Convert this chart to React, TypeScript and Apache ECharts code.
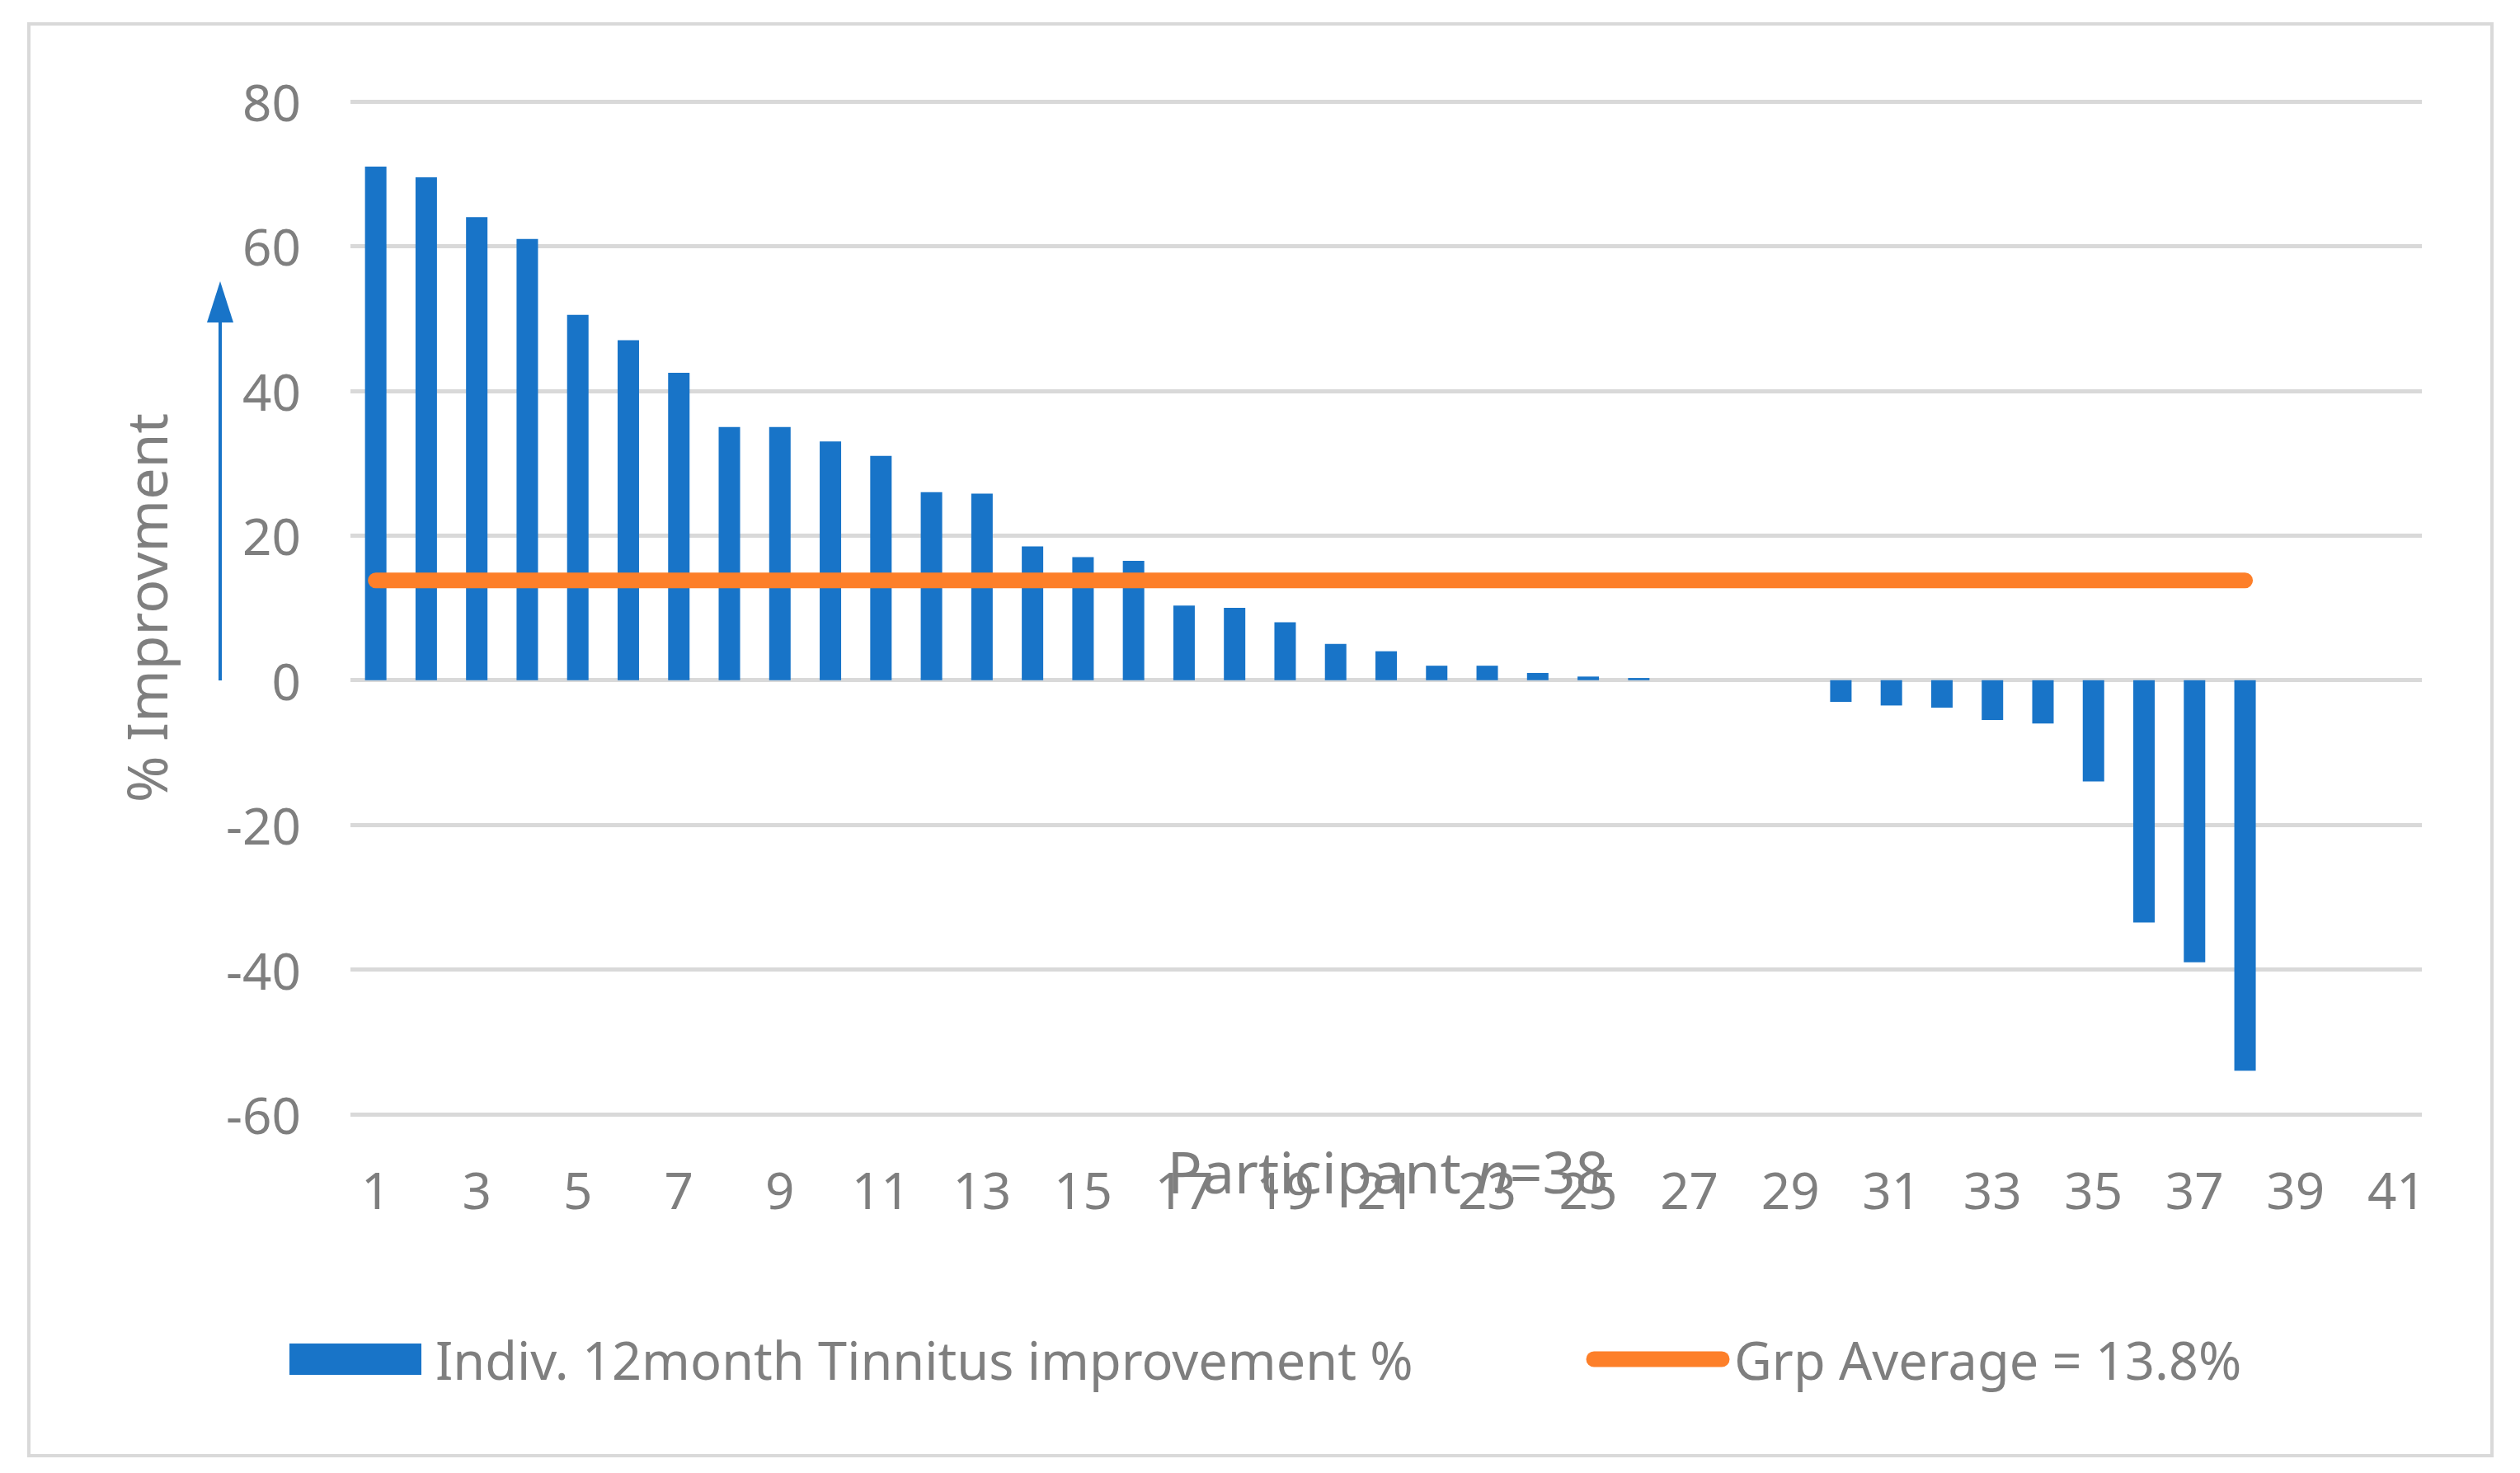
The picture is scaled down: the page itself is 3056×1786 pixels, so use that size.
import React, { useEffect, useRef } from "react";
import * as echarts from "echarts";

const categories = Array.from({ length: 41 }, (_, i) => String(i + 1));
const improvement = [71, 69.5, 64, 61, 50.5, 47, 42.5, 35, 35, 33, 31, 26, 25.8, 18.5, 17, 16.5, 10.3, 10, 8, 5, 4, 2, 2, 1, 0.5, 0.3, 0, 0, 0, -3, -3.5, -3.8, -5.5, -6, -14, -33.5, -39, -54];
const groupAverage = 13.8;
const averageLine = categories.map((_, i) => (i < improvement.length ? groupAverage : null));

const FONT = "Noto Sans";
const GREY = "#7f7f7f";

export default function App() {
  const ref = useRef<HTMLDivElement>(null);
  useEffect(() => {
    const chart = echarts.init(ref.current!, null, { renderer: "svg" });
    chart.setOption({
      animation: false,
      textStyle: { fontFamily: FONT },
      grid: { left: 417, right: 111, top: 115, bottom: 427 },
      xAxis: {
        type: "category",
        data: categories,
        boundaryGap: true,
        axisLine: { show: true, onZero: true, lineStyle: { color: "rgba(0,0,0,0)" } },
        axisTick: { show: false },
        axisLabel: { interval: 1, color: GREY, fontSize: 62, margin: 60, fontFamily: FONT },
      },
      yAxis: {
        type: "value",
        min: -60,
        max: 80,
        interval: 20,
        name: "% Improvment",
        nameLocation: "middle",
        nameGap: 215,
        nameTextStyle: { color: GREY, fontSize: 68, fontFamily: FONT },
        axisLabel: { color: GREY, fontSize: 62, margin: 60, fontFamily: FONT },
        splitLine: { lineStyle: { color: "#d9d9d9", width: 5 } },
      },
      series: [
        { type: "bar", name: "Indiv. 12month Tinnitus improvement %", data: improvement, barWidth: 26, itemStyle: { color: "#1874c8" } },
        { type: "line", name: "Grp Average = 13.8%", data: averageLine, symbol: "none", lineStyle: { color: "#fd7f29", width: 19, cap: "round" } },
      ],
      graphic: [
        { type: "rect", shape: { x: 27, y: 21, width: 2987, height: 1736 }, style: { fill: "none", stroke: "#d9d9d9", lineWidth: 4 } },
        { type: "line", shape: { x1: 259, y1: 817, x2: 259, y2: 380 }, style: { stroke: "#1874c8", lineWidth: 4 } },
        { type: "polygon", shape: { points: [[259, 333], [243, 383], [275, 383]] }, style: { fill: "#1874c8" } },
        {
          type: "text", x: 1675, y: 1412,
          style: {
            text: "{a|Participant }{b|n}{a|=38}",
            align: "center", verticalAlign: "middle",
            rich: {
              a: { fontSize: 70, fill: GREY, fontFamily: FONT },
              b: { fontSize: 70, fill: GREY, fontFamily: FONT, fontStyle: "italic" },
            },
          },
        },
        { type: "rect", shape: { x: 343, y: 1621, width: 160, height: 38 }, style: { fill: "#1874c8" } },
        { type: "text", x: 520, y: 1640, style: { text: "Indiv. 12month Tinnitus improvement %", fontSize: 63, fill: GREY, fontFamily: FONT, verticalAlign: "middle" } },
        { type: "line", shape: { x1: 1925, y1: 1640, x2: 2080, y2: 1640 }, style: { stroke: "#fd7f29", lineWidth: 19, lineCap: "round" } },
        { type: "text", x: 2095, y: 1640, style: { text: "Grp Average = 13.8%", fontSize: 63, fill: GREY, fontFamily: FONT, verticalAlign: "middle" } },
      ],
    });
    return () => chart.dispose();
  }, []);
  return <div ref={ref} style={{ width: 3040, height: 1770 }} />;
}
